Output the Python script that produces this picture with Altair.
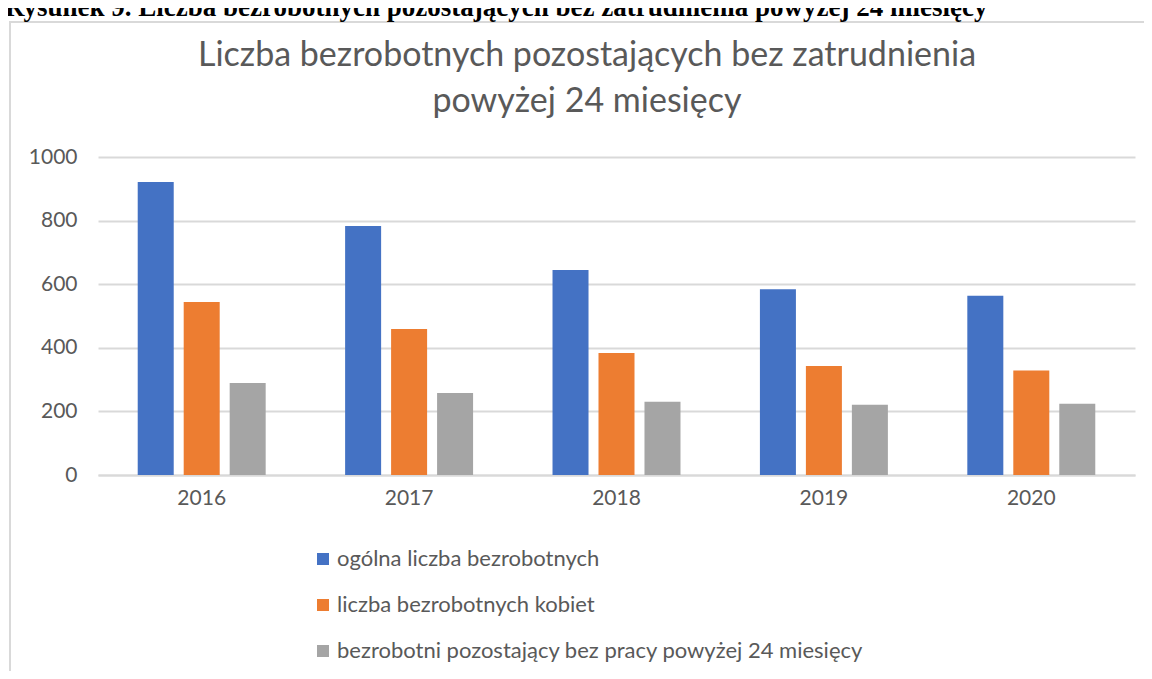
import altair as alt
import pandas as pd

years = ["2016", "2017", "2018", "2019", "2020"]
series = [
    "ogólna liczba bezrobotnych",
    "liczba bezrobotnych kobiet",
    "bezrobotni pozostający bez pracy powyżej 24 miesięcy",
]
total = [921, 783, 645, 584, 564]
women = [544, 459, 384, 343, 329]
long_term = [289, 258, 230, 221, 224]
colors = ["#4472C4", "#ED7D31", "#A5A5A5"]
title_lines = ["Liczba bezrobotnych pozostających bez zatrudnienia", "powyżej 24 miesięcy"]
caption_text = "Rysunek 9. Liczba bezrobotnych pozostających bez zatrudnienia powyżej 24 miesięcy"

rows = []
for i, y in enumerate(years):
    for s, vals in zip(series, [total, women, long_term]):
        rows.append({"rok": y, "seria": s, "wartosc": vals[i]})
df = pd.DataFrame(rows)

FONT = "Lato"
GREY_TXT = "#595959"

bars = alt.Chart(df).mark_bar().encode(
    x=alt.X("rok:N", sort=years, title=None,
            scale=alt.Scale(paddingInner=0.383, paddingOuter=0.1915),
            axis=alt.Axis(labelAngle=0, labelFontSize=21, labelFont=FONT, labelColor=GREY_TXT,
                          labelPadding=12, ticks=False, domainColor="#d9d9d9", domainWidth=2)),
    xOffset=alt.XOffset("seria:N", sort=series,
                        scale=alt.Scale(paddingInner=0.217, paddingOuter=0)),
    y=alt.Y("wartosc:Q", title=None,
            scale=alt.Scale(domain=[0, 1000]),
            axis=alt.Axis(values=[0, 200, 400, 600, 800, 1000], format="d", labelFontSize=21,
                          labelFont=FONT, labelColor=GREY_TXT, labelPadding=21, ticks=False,
                          domain=False, gridColor="#d9d9d9", gridWidth=2)),
    color=alt.Color("seria:N", sort=series, title=None,
                    scale=alt.Scale(domain=series, range=colors),
                    legend=alt.Legend(orient="none", legendX=214, legendY=391, direction="vertical",
                                      symbolType="square", symbolSize=144, symbolStrokeWidth=0,
                                      labelFontSize=22, labelFont=FONT, labelColor=GREY_TXT,
                                      labelOffset=3, rowPadding=24, labelLimit=800)),
)

frame = alt.Chart(alt.Data(values=[{}])).mark_rect(
    fill=None, stroke="#d9d9d9", strokeWidth=2
).encode(x=alt.value(-88), y=alt.value(-135), x2=alt.value(1300), y2=alt.value(800))

caption = alt.Chart(alt.Data(values=[{}])).mark_text(
    text=caption_text,
    font="Liberation Serif", fontWeight="bold", fontSize=27, align="left", baseline="alphabetic",
    color="#000000",
).encode(x=alt.value(-93), y=alt.value(-141))

title = alt.Chart(alt.Data(values=[{}])).mark_text(
    text=title_lines, font=FONT, fontSize=34, color=GREY_TXT, align="center",
    baseline="alphabetic", lineHeight=46,
).encode(x=alt.value(489), y=alt.value(-91))

chart = alt.layer(frame, bars, caption, title).properties(
    width=1037, height=318,
    padding={"left": 90, "top": 149, "right": 9, "bottom": 196},
    autosize=alt.AutoSizeParams(type="none"),
).configure_view(stroke=None)

chart.save("out.html", embed_options={"renderer": "svg", "actions": False})
